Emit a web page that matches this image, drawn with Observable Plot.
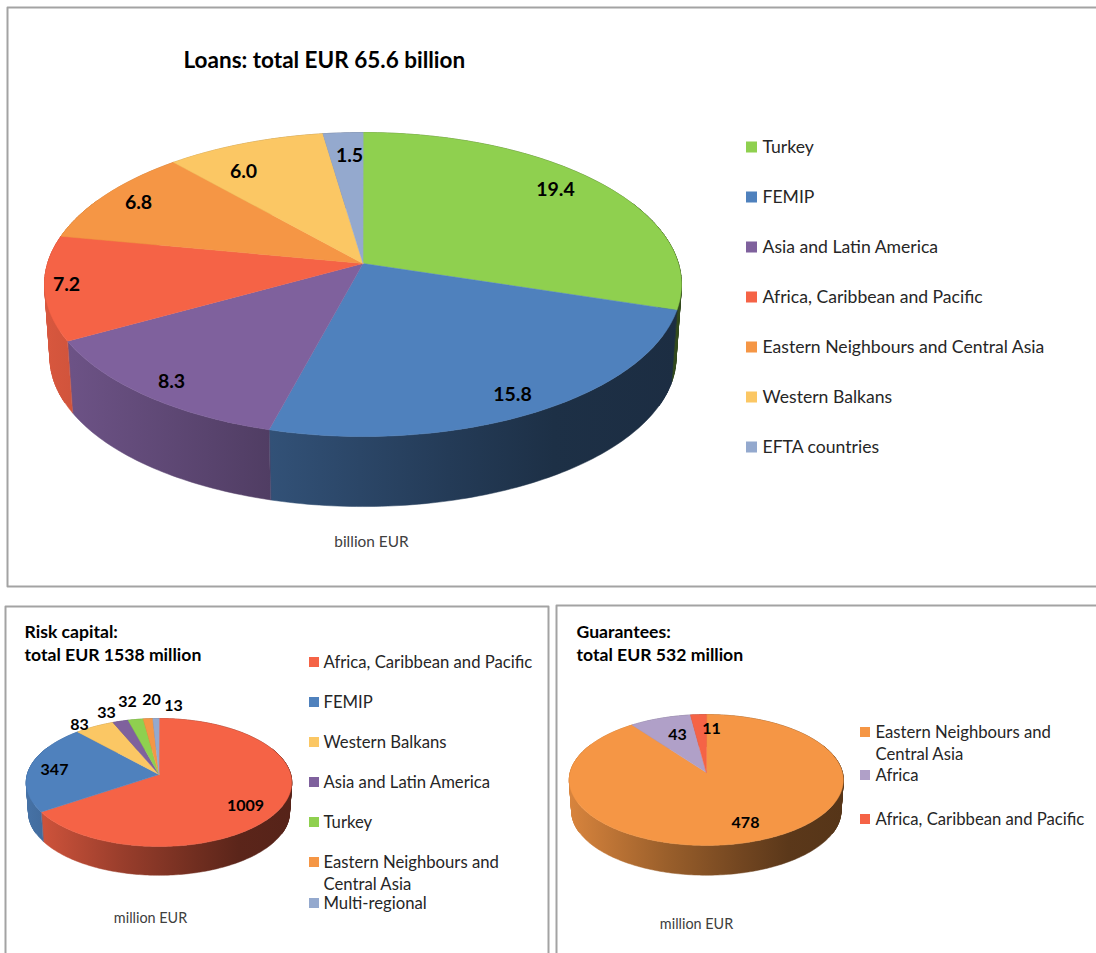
<!DOCTYPE html>
<html>
<head>
<meta charset="utf-8">
<script src="https://cdn.jsdelivr.net/npm/d3@7"></script>
<script src="https://cdn.jsdelivr.net/npm/@observablehq/plot@0.6"></script>
<style>
html,body{margin:0;padding:0;background:#fff}
svg{display:block}
</style>
</head>
<body>
<div id="chart"></div>
<script>
// ---- data ----
const loanRegions = ["Turkey","FEMIP","Asia and Latin America","Africa, Caribbean and Pacific","Eastern Neighbours and Central Asia","Western Balkans","EFTA countries"];
const loanValues = [19.4,15.8,8.3,7.2,6.8,6.0,1.5];
const loanLabels = ["19.4","15.8","8.3","7.2","6.8","6.0","1.5"];
const riskRegions = ["Africa, Caribbean and Pacific","FEMIP","Western Balkans","Asia and Latin America","Turkey","Eastern Neighbours and Central Asia","Multi-regional"];
const riskValues = [1009,347,83,33,32,20,13];
const guaranteeRegions = ["Eastern Neighbours and Central Asia","Africa","Africa, Caribbean and Pacific"];
const guaranteeValues = [478,43,11];

// ---- styles ----
const colors = {
  "Turkey":"#8FD04F","FEMIP":"#4F81BD","Asia and Latin America":"#7F619D",
  "Africa, Caribbean and Pacific":"#F56346","Eastern Neighbours and Central Asia":"#F59645",
  "Western Balkans":"#FBC764","EFTA countries":"#94A9CE","Multi-regional":"#94A9CE","Africa":"#B0A0C8"
};
const FONT = "Lato, 'Open Sans', sans-serif";
const shadeAt = [-1,-0.29,0.27,0.6,1];
const shadeBy = [0.88,0.63,0.46,0.37,0.35];

// ---- layout of each 3D pie (perspective disc) ----
const loanPie = {key:"l",cx:362.5,cy:263,R:315.4,Q:149.1,p:0.1382,drop:73};
const riskPie = {key:"r",cx:158.5,cy:774,R:131.7,Q:63,p:0.125,drop:30};
const guarPie = {key:"g",cx:705.8,cy:772,R:136.1,Q:64.6,p:0.1145,drop:31};
const bottomScale = 0.983;
const gradientDefs = [];

function pt(g,a,bottom){
  const u=Math.sin(a), v=-Math.cos(a), w=1-g.p*v, s=bottom?bottomScale:1;
  return {x:g.cx+s*g.R*u/w, y:g.cy+(bottom?g.drop:0)+s*g.Q*v/w, u};
}
function build(g,regions,values){
  const total=d3.sum(values);
  const tops=[], walls=[], fillers=[];
  let c=0;
  const rx=g.R/Math.sqrt(1-g.p*g.p);
  regions.forEach((r,i)=>{
    const a0=c/total*2*Math.PI; c+=values[i]; const a1=c/total*2*Math.PI;
    const n=Math.max(2,Math.ceil((a1-a0)/(Math.PI/180)));
    const angles=d3.range(n+1).map(k=>a0+(a1-a0)*k/n);
    const gid=`wall-${g.key}-${i}`, base=d3.rgb(colors[r]), col=`url(#${gid})`;
    gradientDefs.push({id:gid,x1:g.cx-rx,x2:g.cx+rx,
      stops:shadeAt.map((t,j)=>({offset:(t+1)/2,color:d3.rgb(base.r*shadeBy[j],base.g*shadeBy[j],base.b*shadeBy[j]).formatHex()}))});
    tops.push({x:g.cx,y:g.cy,z:r,color:colors[r]});
    angles.forEach((a,k)=>{
      const p=pt(g,a,false);
      tops.push({x:p.x,y:p.y,z:r,color:colors[r]});
      walls.push({x:p.x,y:p.y,z:gid,color:col});
      // the side silhouette joins the two rims with a straight tangent
      if(k<n && Math.abs(p.u)>0.9){
        const p2=pt(g,angles[k+1],false), b=pt(g,a,true), b2=pt(g,angles[k+1],true);
        [p,p2,b2,b].forEach(q=>fillers.push({x:q.x,y:q.y,z:`${gid}-${k}`,color:col}));
      }
    });
    angles.slice().reverse().forEach(a=>{const p=pt(g,a,true);walls.push({x:p.x,y:p.y,z:gid,color:col});});
  });
  return {tops,walls,fillers};
}
function pieMarks(g,regions,values){
  const {tops,walls,fillers}=build(g,regions,values);
  return [
    Plot.line(fillers,{x:"x",y:"y",z:"z",fill:"color",stroke:"color",strokeWidth:0.8,curve:"linear-closed"}),
    Plot.line(walls,{x:"x",y:"y",z:"z",fill:"color",stroke:"color",strokeWidth:0.5,curve:"linear-closed"}),
    Plot.line(tops,{x:"x",y:"y",z:"z",fill:"color",stroke:"color",strokeWidth:0.5,curve:"linear-closed"})
  ];
}

// ---- panel frames ----
const frames = [
  {id:"a",pts:[[1100,7],[7,7],[7,586],[1100,586]]},
  {id:"b",pts:[[5,960],[5,606],[548,606],[548,960]]},
  {id:"c",pts:[[556,960],[556,605],[1100,605]]}
].flatMap(f=>f.pts.map(([x,y])=>({x,y,z:f.id})));

// ---- text layout ----
const titles = [
  {text:"Loans: total EUR 65.6 billion",x:183,y:60,size:22.5},
  {text:"Risk capital:",x:24,y:632,size:17.6},
  {text:"total EUR 1538 million",x:24,y:655,size:17.6},
  {text:"Guarantees:",x:576,y:632,size:17.6},
  {text:"total EUR 532 million",x:576,y:655,size:17.6}
];
const units = [
  {text:"billion EUR",x:371,y:542,size:15.4},
  {text:"million EUR",x:150,y:918,size:14.4},
  {text:"million EUR",x:696,y:924,size:14.4}
];
const loanLabelAt = [[555,189],[512,394],[171,381],[66,284],[138,202],[243,171],[349,155]];
const riskLabelAt = [[245,805],[54,769],[79,724],[106,712],[127,701],[151,699],[173,705]];
const guarLabelAt = [[745,822],[677,734],[711,728]];
const valueLabels = [
  ...loanLabels.map((t,i)=>({text:t,x:loanLabelAt[i][0],y:loanLabelAt[i][1],size:19.5})),
  ...riskValues.map((v,i)=>({text:String(v),x:riskLabelAt[i][0],y:riskLabelAt[i][1],size:16})),
  ...guaranteeValues.map((v,i)=>({text:String(v),x:guarLabelAt[i][0],y:guarLabelAt[i][1],size:16}))
];

// legends
const legendEntries = [
  ...loanRegions.map((r,i)=>({key:r,lines:[r],x:746,y:147+50*i,s:11,tx:762,size:17.6})),
  ...riskRegions.map((r,i)=>{
     const ys=[662,702,742,782,822,862,903];
     const lines=r.startsWith("Eastern")?["Eastern Neighbours and","Central Asia"]:[r];
     return {key:r,lines,x:309,y:ys[i],s:10,tx:323,size:16.7};
  }),
  ...guaranteeRegions.map((r,i)=>{
     const ys=[732,775,819];
     const lines=r.startsWith("Eastern")?["Eastern Neighbours and","Central Asia"]:[r];
     return {key:r,lines,x:860,y:ys[i],s:10,tx:875,size:16.7};
  })
];
const legendText = legendEntries.flatMap(e=>e.lines.map((t,j)=>({text:t,x:e.tx,y:e.y+j*22.5,size:e.size})));

const pies = [
  ...pieMarks(loanPie,loanRegions,loanValues),
  ...pieMarks(riskPie,riskRegions,riskValues),
  ...pieMarks(guarPie,guaranteeRegions,guaranteeValues)
];
function defsMark(){
  const defs=d3.create("svg:defs");
  const grads=defs.selectAll("linearGradient").data(gradientDefs).join("linearGradient")
    .attr("id",d=>d.id).attr("gradientUnits","userSpaceOnUse")
    .attr("x1",d=>d.x1).attr("x2",d=>d.x2).attr("y1",0).attr("y2",0);
  grads.selectAll("stop").data(d=>d.stops).join("stop")
    .attr("offset",d=>d.offset).attr("stop-color",d=>d.color);
  return defs.node();
}

const marks = [
  defsMark,
  Plot.line(frames,{x:"x",y:"y",z:"z",stroke:"#A3A3A3",strokeWidth:2,curve:"linear"}),
  ...pies,
  Plot.rect(legendEntries,{x1:d=>d.x,x2:d=>d.x+d.s,y1:d=>d.y-d.s/2,y2:d=>d.y+d.s/2,fill:d=>colors[d.key]}),
  Plot.text(legendText,{x:"x",y:"y",text:"text",fontSize:"size",textAnchor:"start",fill:"#262626",fontFamily:FONT}),
  Plot.text(titles,{x:"x",y:"y",text:"text",fontSize:"size",textAnchor:"start",fontWeight:"bold",fill:"#000",fontFamily:FONT}),
  Plot.text(units,{x:"x",y:"y",text:"text",fontSize:"size",fill:"#404040",fontFamily:FONT}),
  Plot.text(valueLabels,{x:"x",y:"y",text:"text",fontSize:"size",fontWeight:"bold",fill:"#000",fontFamily:FONT})
];

const chart = Plot.plot({
  width:1096,height:953,margin:0,
  x:{domain:[0,1096],range:[0,1096],axis:null},
  y:{domain:[0,953],range:[0,953],axis:null},
  color:{type:"identity"},
  style:{background:"#fff"},
  marks
});
document.getElementById("chart").appendChild(chart);
</script>
</body>
</html>
